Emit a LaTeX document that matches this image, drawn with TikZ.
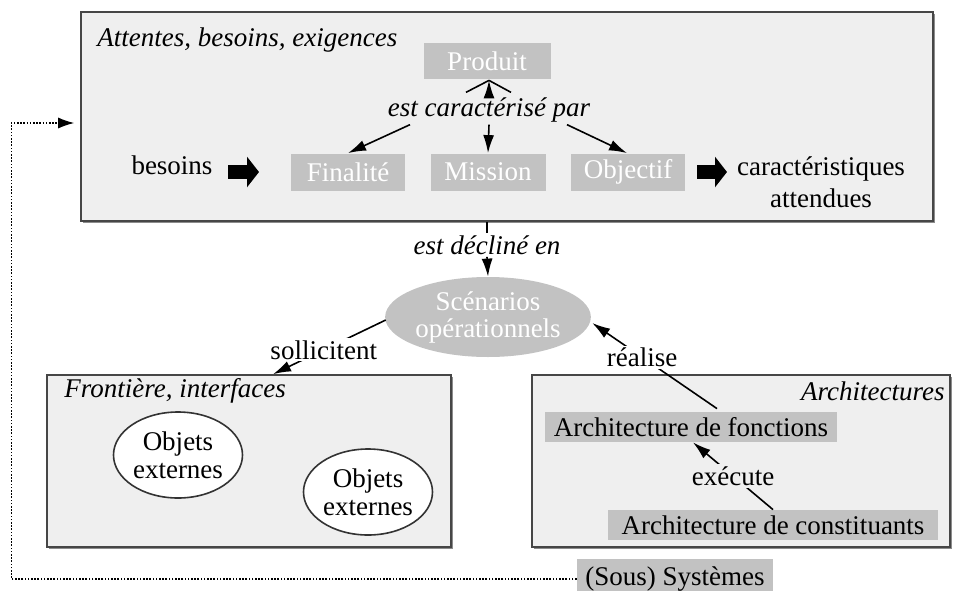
\documentclass[tikz,border=0pt]{standalone}
\usepackage{fontspec}
\setmainfont{Liberation Serif}
\usetikzlibrary{arrows.meta,shadows,calc,shapes.geometric}
\definecolor{boxfill}{RGB}{239,239,239}
\definecolor{tag}{RGB}{194,194,194}
\definecolor{edge}{RGB}{70,70,70}
\begin{document}
\begin{tikzpicture}[x=0.5pt,y=-0.5pt,
  font=\fontsize{13.5}{13.5}\selectfont,
  bigbox/.style={draw=edge, line width=0.8pt, fill=boxfill, inner sep=0pt,
    drop shadow={shadow xshift=1.2pt, shadow yshift=-1.2pt, fill=black!45, opacity=1}},
  tagw/.style={fill=tag, text=white, inner sep=0pt},
  tagb/.style={fill=tag, text=black, inner sep=0pt},
  lbl/.style={inner sep=1pt},
  ital/.style={font=\fontsize{13.5}{13.5}\selectfont\itshape},
  arr/.style={line width=0.8pt, -{Latex[length=9pt,width=5.5pt]}},
  plain/.style={line width=0.8pt},
  fatarr/.style={line width=7pt, -{Triangle[length=6pt,width=15pt]}},
  dotline/.style={line width=0.6pt, dash pattern=on 0.8pt off 0.8pt},
  objet/.style={ellipse, draw=black!80, fill=white, line width=0.8pt, minimum width=64.5pt,
    minimum height=43pt, inner sep=0pt, align=center, font=\fontsize{13.5}{14}\selectfont}
]
\useasboundingbox (0,0) rectangle (954,590);

% top box
\node[bigbox, minimum width=426pt, minimum height=104.5pt] (top) at (507,116.5) {};
\node[ital, anchor=west, inner sep=0pt] (ttop) at (97,40) {Attentes, besoins, exigences};
\node[tagw, minimum width=63.5pt, minimum height=18pt] (prod) at (487,61) {Produit};
\node[ital, lbl] (car) at (489,110) {est caractérisé par};
\node[tagw, minimum width=57pt, minimum height=18.5pt] (fin) at (348,172) {Finalité};
\node[tagw, minimum width=57.5pt, minimum height=18.5pt] (mis) at (488,172) {Mission};
\node[tagw, minimum width=57pt, minimum height=18.5pt] (obj) at (628,172) {Objectif};
\node (bes) at (172,165) {besoins};
\node[align=center, font=\fontsize{13.5}{16}\selectfont] (carat) at (821,182) {caractéristiques\\attendues};

\coordinate (a1s) at (228,172);
\coordinate (a1e) at (259,172);
\coordinate (a2s) at (697,172);
\coordinate (a2e) at (727,172);
\draw[fatarr] (a1s) -- (a1e);
\draw[fatarr] (a2s) -- (a2e);

\draw[arr] ($(car.south)+(-79,0)$) -- (fin.north);
\draw[arr] (car.south) -- (mis.north);
\draw[arr] ($(car.south)+(78,0)$) -- ($(obj.north)+(-1,0)$);
\draw[arr] ($(car.north)+(0,-3)$) -- ($(prod.south)+(2,1)$);
\draw[plain] ($(car.north)+(-23,-3)$) -- ($(prod.south)+(2,1)$);
\draw[plain] ($(car.north)+(22,-3)$) -- ($(prod.south)+(2,1)$);

% declined
\node[ital, lbl] (dec) at (487,245) {est décliné en};
\draw[plain] (top.south -| dec.north) -- (dec.north);
\node[ellipse, fill=tag, text=white, minimum width=102pt, minimum height=40pt, inner sep=0pt,
  align=center] (scen) at (488,317) {Scénarios\\opérationnels};
\draw[arr] (dec.south) -- (scen.north);

% frontier
\node[bigbox, minimum width=202pt, minimum height=86pt] (front) at (249,461) {};
\node[ital, anchor=west, inner sep=0pt] (tfront) at (64,391) {Frontière, interfaces};
\node[objet] (o1) at (178,455) {Objets\\externes};
\node[objet] (o2) at (368,492) {Objets\\externes};
\draw[arr] ($(scen.west)+(1,3)$) -- node[lbl, fill=white, pos=0.55] {sollicitent} ($(front.north)+(24,0)$);

% architectures
\node[bigbox, minimum width=209pt, minimum height=86pt] (arch) at (741,461) {};
\node[ital, anchor=east, inner sep=0pt] (tarch) at (945,391) {Architectures};
\node[tagb, minimum width=146pt, minimum height=15pt] (fonct) at (691,427) {Architecture de fonctions};
\node[tagb, minimum width=165pt, minimum height=15pt] (const) at (773,525) {Architecture de constituants};
\draw[arr] (const.north) -- node[lbl, fill=boxfill] {exécute} ($(fonct.south)+(2,0)$);
\draw[arr] ($(fonct.north)+(26,-3)$) -- node[lbl, fill=white, pos=0.6] {réalise} ($(scen.east)+(1,6)$);

% sub-systems
\node[tagb, minimum width=98pt, minimum height=20pt] (sous) at (675,579) {(Sous) Systèmes};
\draw[dotline, -{Latex[length=8pt,width=5.5pt]}] (sous.west) -| ($(top.west)+(-69,6.5)$) -- ($(top.west)+(-6,6.5)$);
\end{tikzpicture}
\end{document}
